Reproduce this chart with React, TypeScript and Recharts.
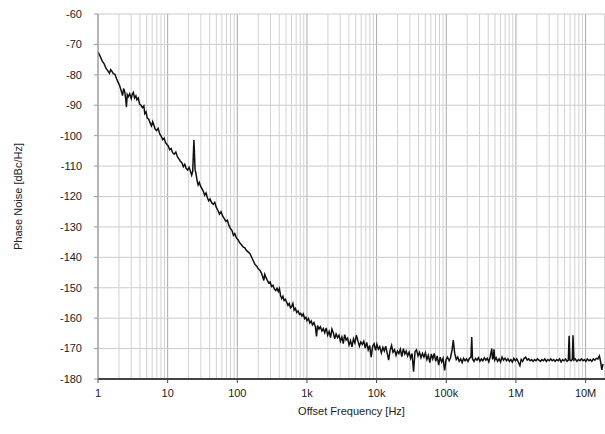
import { LineChart, Line, XAxis, YAxis, CartesianGrid, ReferenceLine } from 'recharts'

// offset frequency in Hz
const freqs = [
  1, 1.08, 1.15, 1.22, 1.3, 1.38, 1.46, 1.52, 1.58, 1.66, 1.75, 1.84, 1.94, 2.05, 2.15, 2.25, 2.33, 2.42, 2.5, 2.56,
  2.63, 2.72, 2.85, 3.0, 3.1, 3.22, 3.35, 3.5, 3.62, 3.78, 3.95, 4.15, 4.35, 4.55, 4.7, 4.9, 5.1, 5.35, 5.6, 5.85,
  6.1, 6.35, 6.6, 6.95, 7.3, 7.7, 8.1, 8.5, 8.9, 9.3, 9.7, 10.2, 10.7, 11.2, 11.8, 12.4, 13.1, 13.8, 14.5, 15.2,
  16, 16.8, 17.6, 18.5, 19.4, 20.3, 21.2, 22.1, 22.9, 23.4, 23.8, 24.2, 24.7, 25.5, 26.4, 27.4, 28.5, 29.7, 31, 32.4,
  34, 35.6, 37.2, 38.8, 40.6, 42.7, 45, 47.4, 50, 52.6, 55.5, 58.4, 61.5, 65, 68.5, 72, 76, 80, 84, 88,
  92, 97, 103, 108, 114, 121, 128, 136, 144, 152, 160, 170, 180, 190, 200, 212, 222, 232, 240, 248,
  258, 270, 282, 296, 310, 325, 340, 356, 372, 388, 402, 418, 434, 452, 470, 490, 512, 534, 556, 580,
  604, 628, 655, 684, 713, 745, 778, 812, 848, 886, 925, 965, 1000, 1050, 1100, 1150, 1200, 1260, 1320, 1370,
  1420, 1490, 1560, 1640, 1720, 1800, 1890, 1980, 2080, 2180, 2280, 2390, 2500, 2620, 2750, 2880, 3020, 3170, 3320, 3480,
  3650, 3830, 4020, 4220, 4430, 4650, 4880, 5120, 5380, 5650, 5930, 6230, 6540, 6870, 7210, 7570, 7950, 8350, 8770, 9200,
  9660, 10100, 10600, 11100, 11700, 12300, 12900, 13500, 14200, 14900, 15600, 16400, 17200, 18100, 19000, 19900, 20900, 21900, 23000, 24200,
  25400, 26600, 27900, 29300, 30800, 32300, 33900, 35600, 37400, 39300, 41300, 43300, 45500, 47800, 50200, 52700, 55300, 58100, 61000, 64000,
  67200, 70600, 74100, 77800, 81700, 85800, 90100, 94600, 99300, 104000, 110000, 115000, 121000, 126000, 132000, 139000, 146000, 153000, 161000, 169000,
  177000, 186000, 195000, 205000, 215000, 226000, 232000, 238000, 250000, 263000, 276000, 290000, 304000, 319000, 335000, 352000, 370000, 388000, 408000, 428000,
  450000, 462000, 475000, 485000, 497000, 520000, 546000, 573000, 602000, 632000, 663000, 697000, 732000, 768000, 807000, 847000, 889000, 934000, 980000, 1030000,
  1080000, 1140000, 1190000, 1250000, 1310000, 1380000, 1450000, 1520000, 1600000, 1680000, 1760000, 1850000, 1940000, 2040000, 2140000, 2250000, 2360000, 2480000, 2600000, 2730000,
  2870000, 3010000, 3160000, 3320000, 3490000, 3660000, 3850000, 4040000, 4240000, 4450000, 4680000, 4910000, 5160000, 5420000, 5650000, 5800000, 5950000, 6200000, 6450000, 6600000,
  6800000, 7100000, 7500000, 7900000, 8300000, 8700000, 9200000, 9600000, 10100000, 10600000, 11200000, 11700000, 12300000, 12900000, 13600000, 14300000, 15000000, 15800000, 16400000, 17100000,
  17800000,
]

// phase noise in dBc/Hz
const phaseNoise = [
  -72.5, -74, -75.5, -76.3, -77.8, -78.6, -79.5, -78.3, -78.8, -79.6, -79.8, -81.2, -82.4, -83.6, -85.2, -86.8, -84.5, -85.6, -88, -90.6,
  -86.5, -87.2, -86.2, -87.8, -86.4, -85.8, -87.6, -86.9, -88.2, -87.6, -89.6, -90, -90.8, -90.2, -92.8, -92.2, -94.2, -94.6, -95.8, -96.8,
  -95.4, -96.6, -97.8, -98.3, -97.6, -99.4, -100.2, -101.3, -100.8, -102.2, -102.8, -103.4, -104.6, -104.2, -105.6, -106.1, -105.4, -106.9, -107.6, -108.4,
  -108.9, -110.2, -109.4, -110.8, -111.3, -110.4, -111.6, -113, -111.8, -106, -101.4, -105, -111, -112.5, -114.6, -116.2, -115.4, -116.6, -117.4, -118.2,
  -119.6, -118.8, -120.4, -121.4, -120.8, -122, -122.6, -121.9, -123.6, -124.6, -125.8, -125, -126.4, -127.3, -128.2, -127.8, -129.6, -130.6, -131.2, -132.8,
  -132.2, -133.6, -134.3, -135.2, -135.8, -136.6, -136.9, -137.8, -138.3, -138.8, -139.9, -141.2, -142.4, -142.9, -143.8, -144.3, -145.2, -146.4, -147.6, -145.6,
  -146.6, -147.6, -148.4, -148.1, -149.6, -149.2, -150.4, -150.9, -150.2, -151.2, -150.3, -152.6, -153.6, -152.8, -154.2, -153.8, -154.8, -155.8, -155.2, -156.6,
  -156.2, -155.2, -157.4, -156.8, -158.1, -157.6, -158.8, -158.4, -159.3, -158.6, -160.2, -159.7, -160.8, -160.1, -161.6, -160.9, -162.2, -161.4, -162.8, -166,
  -162.4, -163.6, -162.8, -164.2, -163.4, -164.8, -163.2, -165.6, -164.4, -166.4, -163.6, -164.8, -166.8, -165.2, -166.4, -165.6, -167.6, -166.2, -168.4, -165.4,
  -167.2, -166.6, -168.8, -167.4, -169.4, -166.8, -168.2, -165.6, -167.4, -169.2, -167.8, -168.6, -167.6, -169.8, -168, -170.4, -169, -172.8, -169.2, -168.4,
  -170.6, -168.6, -170.2, -169.4, -171.4, -169.6, -170.8, -169.2, -171.6, -173.8, -170.6, -169, -171.2, -170.4, -172.2, -170.8, -171.6, -170.2, -172.6, -170,
  -171.8, -170.8, -172.4, -171.2, -173.2, -171.6, -177.6, -171, -170.4, -172.4, -171.2, -173, -171.6, -172.8, -171.4, -173.6, -172.2, -174.6, -171.8, -173.4,
  -171.6, -174.2, -172.4, -175.4, -172.8, -174.4, -173.2, -177.2, -173.6, -172.8, -174, -173, -170.5, -167.2, -171.5, -173.6, -172.8, -174.2, -173.4, -174.6,
  -173.2, -174, -173.4, -174.2, -173.2, -172.8, -166.2, -173.4, -174.2, -173.2, -173.8, -173, -174.2, -173.4, -174, -173, -173.8, -173.2, -174.4, -172.6,
  -170, -173.6, -172.8, -170.2, -173.8, -173, -174.2, -173.4, -174.4, -172.8, -173.8, -173.2, -174, -173.4, -174.2, -173.6, -174.4, -173.2, -174, -173.4,
  -174.4, -175.6, -173.6, -174.2, -173.2, -172.8, -173.8, -173.4, -174, -173.6, -174.2, -173.6, -174, -173.4, -173.8, -174.2, -173.6, -174, -173.4, -174.2,
  -173.6, -174, -173.4, -174, -173.6, -174.2, -173.6, -174, -173.4, -174.4, -173.6, -174, -173.4, -174.2, -173.8, -165.8, -173.8, -174, -173.6, -165.6,
  -173.8, -173.4, -174.2, -173.6, -174, -173.4, -174, -173.6, -174.2, -173.4, -174, -173.6, -174.2, -173.4, -173.8, -173.2, -173.4, -172.4, -174.2, -177,
  -175,
]

const decadeTicks = [1, 10, 100, 1000, 10000, 100000, 1000000, 10000000]
const decadeLabels = ['1', '10', '100', '1k', '10k', '100k', '1M', '10M']
const minorSteps = [2, 3, 4, 5, 6, 7, 8, 9]
const yTicks = [-180, -170, -160, -150, -140, -130, -120, -110, -100, -90, -80, -70, -60]

const data = freqs.map((f, i) => ({ f, pn: phaseNoise[i] }))
const minorGrid = decadeTicks.flatMap((d) => minorSteps.map((m) => d * m)).filter((v) => v < 19000000)

const font = { fontFamily: 'Liberation Sans, Arial, sans-serif', fontSize: 11, fill: '#222' }

export default function App() {
  return (
    <div style={{ position: 'absolute', left: 0, top: 0, background: '#fff' }}>
      <LineChart width={605} height={434} data={data} margin={{ top: 14, right: 0, bottom: 0, left: 0 }}>
        <CartesianGrid horizontal={false} stroke="#a8a8a8" strokeWidth={1} />
        <CartesianGrid vertical={false} stroke="#cbcbcb" strokeWidth={1} />
        {minorGrid.map((v) => (
          <ReferenceLine key={v} x={v} stroke="#d2d2d2" strokeWidth={1} />
        ))}
        <XAxis
          dataKey="f"
          type="number"
          scale="log"
          domain={[1, 19000000]}
          ticks={decadeTicks}
          tickFormatter={(v) => decadeLabels[decadeTicks.indexOf(v)] ?? ''}
          allowDataOverflow
          height={55}
          axisLine={{ stroke: '#444', strokeWidth: 2 }}
          tickLine={{ stroke: '#444' }}
          tickSize={4}
          tickMargin={6}
          tick={font}
          label={{ value: 'Offset Frequency [Hz]', position: 'insideBottom', offset: 19, style: font }}
        />
        <YAxis
          type="number"
          domain={[-180, -60]}
          ticks={yTicks}
          width={98}
          axisLine={{ stroke: '#999' }}
          tickLine={{ stroke: '#999' }}
          tickSize={4}
          tickMargin={12}
          tick={font}
          label={{ value: 'Phase Noise [dBc/Hz]', angle: -90, position: 'center', dx: -31, style: font }}
        />
        <Line
          dataKey="pn"
          type="linear"
          stroke="#111"
          strokeWidth={1.5}
          dot={false}
          isAnimationActive={false}
        />
      </LineChart>
    </div>
  )
}
